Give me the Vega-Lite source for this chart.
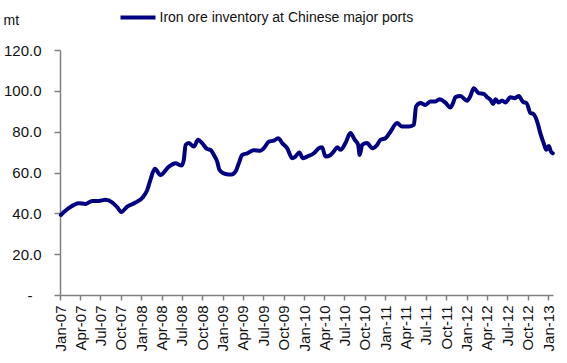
{
  "$schema": "https://vega.github.io/schema/vega-lite/v6.json",
  "width": 493,
  "height": 245,
  "autosize": "none",
  "padding": {"left": 60, "top": 50, "right": 14, "bottom": 68},
  "background": "white",
  "config": {
    "view": {"stroke": null},
    "font": "Liberation Sans",
    "axis": {"grid": false, "domainColor": "#808080", "tickColor": "#808080", "domainWidth": 1.5, "tickWidth": 1.5, "labelFont": "Liberation Sans", "labelFontSize": 15, "labelColor": "#111111", "titleFont": "Liberation Sans"}
  },
  "data": {"values": [
    {"date": "2007-01-05", "v": 39.2},
    {"date": "2007-02-09", "v": 42.5},
    {"date": "2007-03-26", "v": 45.0},
    {"date": "2007-04-25", "v": 44.6},
    {"date": "2007-05-26", "v": 46.1},
    {"date": "2007-06-24", "v": 46.1},
    {"date": "2007-07-24", "v": 46.6},
    {"date": "2007-08-23", "v": 45.4},
    {"date": "2007-09-15", "v": 43.0},
    {"date": "2007-10-03", "v": 40.7},
    {"date": "2007-10-30", "v": 43.3},
    {"date": "2007-12-06", "v": 45.3},
    {"date": "2008-01-08", "v": 47.9},
    {"date": "2008-01-28", "v": 51.5},
    {"date": "2008-02-11", "v": 56.4},
    {"date": "2008-03-02", "v": 61.8},
    {"date": "2008-03-27", "v": 58.8},
    {"date": "2008-05-04", "v": 62.9},
    {"date": "2008-06-03", "v": 64.5},
    {"date": "2008-06-30", "v": 63.4},
    {"date": "2008-07-10", "v": 66.2},
    {"date": "2008-07-18", "v": 73.5},
    {"date": "2008-08-01", "v": 74.4},
    {"date": "2008-08-24", "v": 72.7},
    {"date": "2008-09-12", "v": 76.0},
    {"date": "2008-09-30", "v": 74.4},
    {"date": "2008-10-23", "v": 71.5},
    {"date": "2008-11-07", "v": 71.1},
    {"date": "2008-11-22", "v": 68.6},
    {"date": "2008-12-07", "v": 65.3},
    {"date": "2008-12-17", "v": 61.3},
    {"date": "2009-01-13", "v": 59.3},
    {"date": "2009-02-09", "v": 59.0},
    {"date": "2009-02-27", "v": 60.4},
    {"date": "2009-03-14", "v": 64.5},
    {"date": "2009-03-29", "v": 68.6},
    {"date": "2009-04-21", "v": 69.4},
    {"date": "2009-05-20", "v": 70.9},
    {"date": "2009-06-19", "v": 70.7},
    {"date": "2009-07-04", "v": 71.9},
    {"date": "2009-07-27", "v": 75.1},
    {"date": "2009-08-18", "v": 75.6},
    {"date": "2009-09-07", "v": 76.8},
    {"date": "2009-09-25", "v": 74.4},
    {"date": "2009-10-17", "v": 71.9},
    {"date": "2009-11-09", "v": 67.0},
    {"date": "2009-11-23", "v": 67.8},
    {"date": "2009-12-11", "v": 69.8},
    {"date": "2009-12-26", "v": 67.0},
    {"date": "2010-01-15", "v": 67.8},
    {"date": "2010-02-14", "v": 69.4},
    {"date": "2010-03-08", "v": 71.9},
    {"date": "2010-03-23", "v": 72.4},
    {"date": "2010-04-07", "v": 67.8},
    {"date": "2010-04-30", "v": 68.6},
    {"date": "2010-05-14", "v": 70.2},
    {"date": "2010-05-30", "v": 72.4},
    {"date": "2010-06-13", "v": 71.1},
    {"date": "2010-07-06", "v": 74.4},
    {"date": "2010-07-28", "v": 79.3},
    {"date": "2010-08-17", "v": 76.0},
    {"date": "2010-09-01", "v": 73.5},
    {"date": "2010-09-08", "v": 68.6},
    {"date": "2010-09-19", "v": 73.5},
    {"date": "2010-10-11", "v": 74.4},
    {"date": "2010-11-03", "v": 71.9},
    {"date": "2010-11-25", "v": 73.5},
    {"date": "2010-12-10", "v": 76.0},
    {"date": "2011-01-02", "v": 76.8},
    {"date": "2011-01-24", "v": 80.0},
    {"date": "2011-02-23", "v": 84.2},
    {"date": "2011-03-17", "v": 82.5},
    {"date": "2011-04-16", "v": 82.5},
    {"date": "2011-05-09", "v": 83.3},
    {"date": "2011-05-19", "v": 92.3},
    {"date": "2011-06-08", "v": 94.0},
    {"date": "2011-06-30", "v": 93.1},
    {"date": "2011-07-23", "v": 94.8},
    {"date": "2011-08-14", "v": 94.8},
    {"date": "2011-09-01", "v": 95.9},
    {"date": "2011-09-28", "v": 94.2},
    {"date": "2011-10-20", "v": 91.8},
    {"date": "2011-11-01", "v": 94.0},
    {"date": "2011-11-12", "v": 96.9},
    {"date": "2011-12-04", "v": 97.5},
    {"date": "2012-01-03", "v": 95.2},
    {"date": "2012-01-18", "v": 97.5},
    {"date": "2012-02-02", "v": 101.3},
    {"date": "2012-02-24", "v": 98.9},
    {"date": "2012-03-18", "v": 98.5},
    {"date": "2012-04-02", "v": 96.9},
    {"date": "2012-04-17", "v": 95.6},
    {"date": "2012-04-29", "v": 93.5},
    {"date": "2012-05-10", "v": 95.9},
    {"date": "2012-05-24", "v": 94.3},
    {"date": "2012-06-08", "v": 95.2},
    {"date": "2012-06-23", "v": 94.3},
    {"date": "2012-07-16", "v": 96.9},
    {"date": "2012-08-03", "v": 96.4},
    {"date": "2012-08-22", "v": 97.5},
    {"date": "2012-09-11", "v": 94.5},
    {"date": "2012-09-26", "v": 94.0},
    {"date": "2012-10-14", "v": 89.1},
    {"date": "2012-10-28", "v": 88.6},
    {"date": "2012-11-15", "v": 84.2},
    {"date": "2012-11-27", "v": 79.3},
    {"date": "2012-12-12", "v": 74.4},
    {"date": "2012-12-24", "v": 71.1},
    {"date": "2013-01-04", "v": 73.0},
    {"date": "2013-01-14", "v": 70.2},
    {"date": "2013-01-22", "v": 69.4}
  ]},
  "mark": {"type": "line", "strokeWidth": 4, "interpolate": "monotone", "strokeCap": "round", "strokeJoin": "round"},
  "encoding": {
    "x": {
      "field": "date", "type": "temporal",
      "scale": {"domain": ["2007-01-01T00:00:00", "2013-01-23T00:00:00"]},
      "axis": {"title": null, "format": "%b-%y", "labelAngle": 270, "tickCount": {"interval": "month", "step": 3}, "tickSize": 5, "labelPadding": 5, "labelBound": false, "labelOverlap": false, "labelFlush": false}
    },
    "y": {
      "field": "v", "type": "quantitative",
      "scale": {"domain": [0, 120], "nice": false},
      "axis": {"values": [0, 20, 40, 60, 80, 100, 120], "labelExpr": "datum.value == 0 ? '-' : format(datum.value, '.1f')", "labelAlign": {"condition": {"test": "datum.value == 0", "value": "center"}, "value": "right"}, "labelPadding": {"condition": {"test": "datum.value == 0", "value": 24.5}, "value": 13}, "tickSize": 6, "title": "mt", "titleAngle": 0, "titleAlign": "left", "titleBaseline": "alphabetic", "titleX": -57, "titleY": -26, "titleFontSize": 14, "titleFontWeight": "normal", "titleColor": "#111111"}
    },
    "color": {
      "datum": "Iron ore inventory at Chinese major ports",
      "type": "nominal",
      "scale": {"range": ["#000080"]},
      "legend": {"title": null, "orient": "none", "legendX": 58.5, "legendY": -52, "symbolType": "stroke", "symbolStrokeWidth": 4, "symbolSize": 1225, "labelFontSize": 14, "labelFont": "Liberation Sans", "labelColor": "#111111", "labelOffset": 2, "labelLimit": 0, "padding": 0}
    }
  }
}
